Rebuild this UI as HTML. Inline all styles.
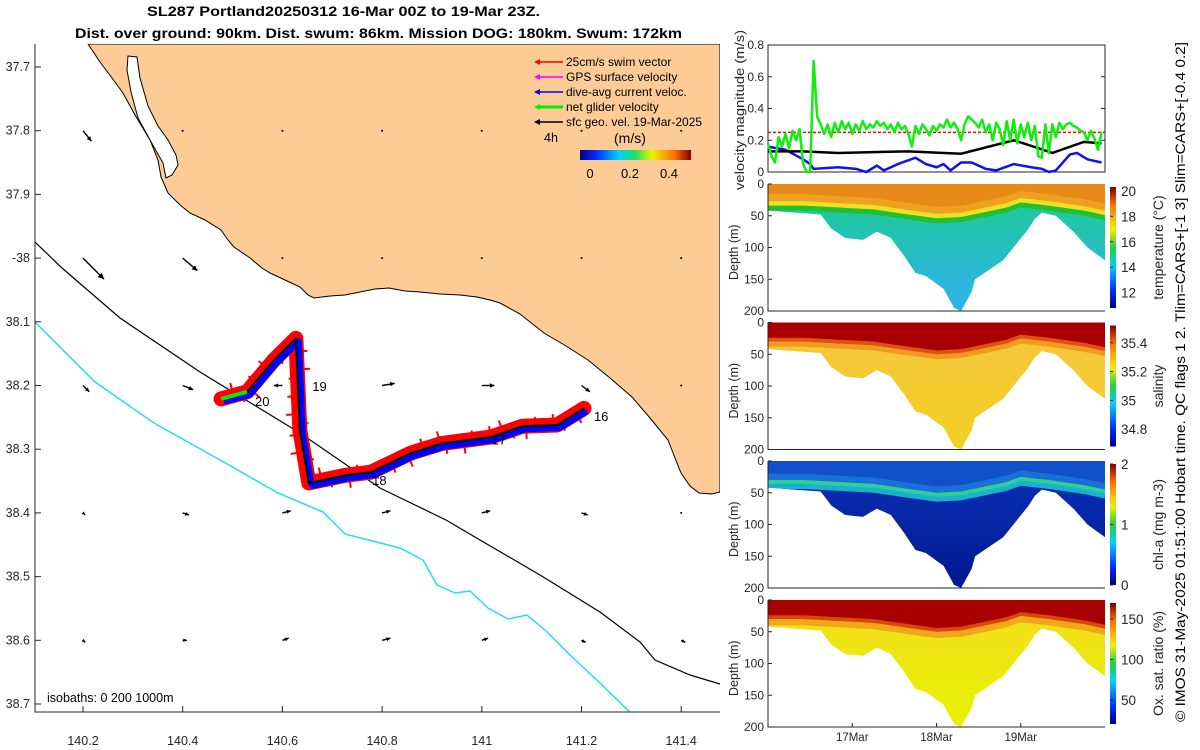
<!DOCTYPE html>
<html><head><meta charset="utf-8"><style>
html,body{margin:0;padding:0;background:#fff;width:1200px;height:750px;overflow:hidden}
svg{display:block}
text{font-family:"Liberation Sans",sans-serif;fill:#262626}
</style></head><body>
<svg id="fig" width="1200" height="750" viewBox="0 0 1200 750" xmlns="http://www.w3.org/2000/svg">
<defs>
<clipPath id="mapclip"><rect x="35" y="44" width="685" height="668"/></clipPath>
<linearGradient id="cbar" x1="0" x2="1" y1="0" y2="0">
<stop offset="0" stop-color="#00007f"/><stop offset="0.15" stop-color="#0030ff"/><stop offset="0.35" stop-color="#00d0ff"/><stop offset="0.5" stop-color="#20e060"/><stop offset="0.65" stop-color="#f0f000"/><stop offset="0.85" stop-color="#ff7000"/><stop offset="1" stop-color="#800000"/>
</linearGradient>
<linearGradient id="vbar" x1="0" x2="0" y1="1" y2="0">
<stop offset="0" stop-color="#00007f"/><stop offset="0.15" stop-color="#0030ff"/><stop offset="0.35" stop-color="#00d0ff"/><stop offset="0.5" stop-color="#20d040"/><stop offset="0.65" stop-color="#f0f000"/><stop offset="0.85" stop-color="#ff7000"/><stop offset="1" stop-color="#800000"/>
</linearGradient>
</defs>

<text x="147" y="16" font-size="13.5" font-weight="bold" textLength="393" lengthAdjust="spacingAndGlyphs" style="fill:#000">SL287 Portland20250312 16-Mar 00Z to 19-Mar 23Z.</text>
<text x="75" y="38" font-size="13.5" font-weight="bold" textLength="607" lengthAdjust="spacingAndGlyphs" style="fill:#000">Dist. over ground: 90km. Dist. swum: 86km. Mission DOG: 180km. Swum: 172km</text>

<g id="map"></g>
<g id="vel"></g>
<g id="sections"></g>

<text transform="translate(1185,722) rotate(-90)" font-size="13.5" textLength="680" lengthAdjust="spacingAndGlyphs" style="fill:#000">© IMOS 31-May-2025 01:51:00 Hobart time. QC flags 1  2. Tlim=CARS+[-1 3] Slim=CARS+[-0.4 0.2]</text>
</svg>
<script>
// ---------- data ----------
const mapLonTicks = [140.2,140.4,140.6,140.8,141,141.2,141.4];
const mapLatTicks = [37.7,37.8,37.9,38,38.1,38.2,38.3,38.4,38.5,38.6,38.7];
const trackLon = [140.477,140.529,140.583,140.627,140.635,140.653,140.726,140.778,140.858,140.920,141.018,141.081,141.151,141.205];
const trackLat = [38.221,38.210,38.160,38.126,38.270,38.353,38.341,38.336,38.306,38.291,38.281,38.264,38.262,38.236];
const dayLabels = ["16","17","18","19","20"];
const dayLon = [141.225,141.02,140.78,140.66,140.545];
const dayLat = [38.248,38.285,38.348,38.201,38.224];
const arrowLon = [140.2,140.4,140.6,140.8,141,141.2,141.4];
const arrowLat = [37.8,38.0,38.2,38.4,38.6];
const arrowU = [
 [0.04,0,0,0,0,0,0],
 [0.10,0.07,0,0,0,0,0],
 [0.03,0.05,-0.04,0.06,0.06,0.04,0],
 [0.01,0.03,0.04,0.04,0.04,0.03,0],
 [0.01,0.02,0.03,0.04,0.03,0.02,0.02]];
const arrowV = [
 [-0.05,0,0,0,0,0,0],
 [-0.10,-0.06,0,0,0,0,0],
 [-0.03,-0.02,0,0.01,0,-0.03,0],
 [-0.01,-0.01,0.01,0.01,0.01,-0.01,0],
 [-0.01,0,0.01,0.01,0.01,-0.01,-0.01]];

const velTicks = [0,0.2,0.4,0.6,0.8];
const greenHours = [0,1,2,3,4,5,6,7,8,9,10,11,12,13,14,15,16,17,18,19,20,21,22,23,24,25,26,27,28,29,30,31,32,33,34,35,36,37,38,39,40,41,42,43,44,45,46,47,48,49,50,51,52,53,54,55,56,57,58,59,60,61,62,63,64,65,66,67,68,69,70,71,72,73,74,75,76,77,78,79,80,81,82,83,84,85,86,87,88,89,90,91,92,93,94,95];
const greenVals = [0.18,0.10,0.06,0.22,0.16,0.24,0.15,0.26,0.20,0.27,0.05,0.0,0.0,0.70,0.35,0.30,0.24,0.30,0.22,0.31,0.25,0.32,0.27,0.31,0.24,0.30,0.26,0.32,0.27,0.30,0.28,0.32,0.29,0.31,0.27,0.30,0.25,0.31,0.27,0.29,0.24,0.16,0.29,0.24,0.30,0.27,0.23,0.29,0.26,0.30,0.28,0.33,0.28,0.31,0.27,0.20,0.30,0.35,0.33,0.31,0.28,0.33,0.25,0.30,0.20,0.31,0.27,0.17,0.32,0.20,0.33,0.18,0.30,0.22,0.31,0.20,0.29,0.10,0.09,0.30,0.12,0.30,0.22,0.31,0.27,0.30,0.31,0.29,0.28,0.26,0.25,0.20,0.26,0.21,0.14,0.25];
const blackHours = [0,10,20,30,40,55,70,77,81,90,95];
const blackVals = [0.13,0.13,0.12,0.125,0.13,0.115,0.20,0.15,0.12,0.19,0.18];
const blueHours = [0,5,10,12,13,20,25,28,31,33,37,42,45,48,50,52,55,58,62,65,70,75,78,80,82,86,88,91,95];
const blueVals = [0.16,0.14,0.08,0.05,0.02,0.03,0.02,0.0,0.04,0.01,0.05,0.09,0.05,0.03,0.05,0.01,0.06,0.06,0.02,0.01,0.05,0.03,0.02,0.0,0.01,0.11,0.12,0.08,0.06];
const swimTarget = 0.25;

const depthTicks = [0,50,100,150,200];
const dateLabels = ["17Mar","18Mar","19Mar"];
const dateHours = [24,48,72];
const profHours = [0,15,18,22,27,31,35,39,42,45,50,53,55,58,59,67,74,76,78,82,87,91,96];
const profDepth = [42,48,70,85,88,75,85,115,140,145,165,195,200,170,150,120,72,55,45,50,75,100,120];
const mlHours = [0,10,20,30,40,48,55,62,68,72,80,90,96];
const mlDepth = [30,30,33,36,44,50,48,40,33,25,30,38,45];

// ---------- helpers ----------
const NS = "http://www.w3.org/2000/svg";
function mk(parent, tag, attrs, txt){const e=document.createElementNS(NS,tag);for(const k in attrs)e.setAttribute(k,attrs[k]);if(txt!==undefined)e.textContent=txt;parent.appendChild(e);return e;}
const lonX = lon => 83 + (lon-140.2)/0.2*99.7;
const latY = lat => 67 + (lat-37.7)/0.1*63.7;

// ---------- map ----------
const map = document.getElementById('map');
const mg = mk(map,'g',{'clip-path':'url(#mapclip)'});
let e;
e = mk(mg,'path',{d:"M88,44 L100,62 L112,78 L123,93 L135,115 L150,140 L158,160 L161,177 L168,193 L180,205 L190,213 L205,220 L221,230 L228,240 L234,247 L250,258 L262,268 L270,273 L285,280 L300,287 L308,295 L314,298 L330,296 L345,295 L360,292 L375,289 L389,288 L405,291 L420,292 L440,294 L460,295 L477,297 L490,300 L500,303 L520,314 L544,333 L566,346 L588,360 L610,378 L632,397 L650,418 L668,440 L675,458 L681,473 L690,486 L699,493 L712,494 L720,492 L720,44 Z",fill:"#fccb96",stroke:"#000","stroke-width":1});
 
e = mk(mg,'path',{d:"M128,56 L137,57 L140,78 L148,106 L158,126 L168,140 L176,155 L178,165 L172,175 L166,178 L163,163 L150,140 L138,118 L131,92 L127,70 Z",fill:"#fff",stroke:"#000","stroke-width":1});
 
e = mk(mg,'polyline',{points:"35,242 62,268 120,318 200,372 300,433 380,488 446,520 480,540 540,575 600,612 640,642 655,660 690,675 720,684",fill:"none",stroke:"#000","stroke-width":1.2});
 
e = mk(mg,'polyline',{points:"35,322 95,382 154,423 220,460 278,493 323,512 345,534 400,548 423,560 437,585 455,593 470,591 488,608 508,619 527,615 545,630 570,655 600,683 640,722",fill:"none",stroke:"#22e0e8","stroke-width":1.5});
 

// current arrows
for(let r=0;r<arrowLat.length;r++){for(let c=0;c<arrowLon.length;c++){
  const x0=lonX(arrowLon[c]), y0=latY(arrowLat[r]);
  const u=arrowU[r][c], v=arrowV[r][c];
  const dx=u*210, dy=-v*210, L=Math.hypot(dx,dy);
  const g=mk(mg,'g',{});
  
  
  if(L<1){mk(g,'circle',{cx:x0,cy:y0,r:1,fill:'#000'});continue;}
  mk(g,'line',{x1:x0,y1:y0,x2:x0+dx,y2:y0+dy,stroke:'#000','stroke-width':1.4});
  const ux=dx/L,uy=dy/L,h=Math.min(6,3+L*0.12);
  mk(g,'polygon',{points:`${x0+dx},${y0+dy} ${x0+dx-h*ux-h*0.5*uy},${y0+dy-h*uy+h*0.5*ux} ${x0+dx-h*ux+h*0.5*uy},${y0+dy-h*uy-h*0.5*ux}`,fill:'#000'});
}}
// track
const tp = trackLon.map((l,i)=>lonX(l)+','+latY(trackLat[i])).join(' ');
const tpb = trackLon.map((l,i)=>(lonX(l)+3)+','+(latY(trackLat[i])+3)).join(' ');
e=mk(mg,'polyline',{points:tp,fill:'none',stroke:'#ff0000','stroke-width':15,'stroke-linejoin':'round','stroke-linecap':'round'});
 
// fuzzy red spikes along track
for(let i=1;i<trackLon.length;i++){
  const xa=lonX(trackLon[i-1]),ya=latY(trackLat[i-1]),xb=lonX(trackLon[i]),yb=latY(trackLat[i]);
  const L=Math.hypot(xb-xa,yb-ya),nx=-(yb-ya)/L,ny=(xb-xa)/L;
  for(let s=4;s<L;s+=9){const f=s/L,x=xa+f*(xb-xa),y=ya+f*(yb-ya),k=((s*7+i*13)%5)-2;
    const sp=mk(mg,'line',{x1:x,y1:y,x2:x+nx*(9+k*2)*(s%18<9?1:-1),y2:y+ny*(9+k*2)*(s%18<9?1:-1),stroke:'#ff0000','stroke-width':2});
     }
}
e=mk(mg,'polyline',{points:tpb,fill:'none',stroke:'#0000ff','stroke-width':6,'stroke-linejoin':'round'});
 
e=mk(mg,'polyline',{points:tp,fill:'none',stroke:'#000','stroke-width':2,'stroke-linejoin':'round'});
 
e=mk(mg,'line',{x1:lonX(trackLon[0]),y1:latY(trackLat[0]),x2:lonX(trackLon[1]),y2:latY(trackLat[1]),stroke:'#00ee00','stroke-width':4});
 
dayLabels.forEach((d,i)=>{const t=mk(mg,'text',{x:lonX(dayLon[i]),y:latY(dayLat[i])+5,'font-size':13,style:'fill:#000'},d);
  });

// legend
const leg=[["#ff0000","25cm/s swim vector"],["#ff00ff","GPS surface velocity"],["#0000ff","dive-avg current veloc."],["#00ee00","net glider velocity"],["#000000","sfc geo. vel. 19-Mar-2025"]];
leg.forEach((l,i)=>{const y=62+i*15;const g=mk(map,'g',{});
  
 mk(g,'line',{x1:537,y1:y,x2:563,y2:y,stroke:l[0],'stroke-width':i===3?3:1.5});
 mk(g,'polygon',{points:`${534},${y} ${540},${y-3} ${540},${y+3}`,fill:l[0]});
 mk(g,'text',{x:566,y:y+4,'font-size':12,style:'fill:#000'},l[1]);});
e=mk(map,'text',{x:544,y:142,'font-size':12.5,style:'fill:#000'},'4h');  
e=mk(map,'text',{x:614,y:143,'font-size':14,style:'fill:#000'},'(m/s)');  
e=mk(map,'rect',{x:580,y:150,width:111,height:10,fill:'url(#cbar)'});  
[["0",590],["0.2",630],["0.4",669]].forEach(a=>{const t=mk(map,'text',{x:a[1],y:178,'font-size':13,'text-anchor':'middle',style:'fill:#000'},a[0]);});
e=mk(map,'text',{x:47,y:702,'font-size':12.5,style:'fill:#000'},'isobaths: 0   200  1000m');  
// axes
e=mk(map,'path',{d:'M35,44 L35,712 L720,712',fill:'none',stroke:'#262626','stroke-width':1});  
mapLonTicks.forEach(l=>{const x=lonX(l);mk(map,'line',{x1:x,y1:712,x2:x,y2:706,stroke:'#262626'});
 const t=mk(map,'text',{x:x,y:745,'font-size':12.5,'text-anchor':'middle'},String(l));});
mapLatTicks.forEach(l=>{const y=latY(l);mk(map,'line',{x1:35,y1:y,x2:41,y2:y,stroke:'#262626'});
 const t=mk(map,'text',{x:30,y:y+4,'font-size':12.5,'text-anchor':'end'},(l===38?'-38':String(l)));});

// ---------- velocity panel ----------
const X0=768,X1=1105;
const hx = h => X0 + h/96*(X1-X0);
const vel=document.getElementById('vel');
const vy = v => 172 - v/0.8*127;
e=mk(vel,'rect',{x:X0,y:45,width:X1-X0,height:127,fill:'#fff',stroke:'#262626'});  
velTicks.forEach(v=>{mk(vel,'line',{x1:X0,y1:vy(v),x2:X0+4,y2:vy(v),stroke:'#262626'});mk(vel,'line',{x1:X1,y1:vy(v),x2:X1-4,y2:vy(v),stroke:'#262626'});
 const t=mk(vel,'text',{x:X0-4,y:vy(v)+4,'font-size':12,'text-anchor':'end'},String(v));});
e=mk(vel,'line',{x1:X0,y1:vy(swimTarget),x2:X1,y2:vy(swimTarget),stroke:'#ff0000','stroke-width':1.5,'stroke-dasharray':'3 2'});  
const pl=(hs,vs)=>hs.map((h,i)=>hx(h)+','+vy(vs[i])).join(' ');
e=mk(vel,'polyline',{points:pl(blueHours,blueVals),fill:'none',stroke:'#1010f0','stroke-width':2.5});  
e=mk(vel,'polyline',{points:pl(blackHours,blackVals),fill:'none',stroke:'#000','stroke-width':2.5});  
e=mk(vel,'polyline',{points:pl(greenHours,greenVals),fill:'none',stroke:'#10ee10','stroke-width':2.5,'stroke-linejoin':'round'});  
e=mk(vel,'text',{transform:'translate(744,190) rotate(-90)','font-size':13,textLength:'160',lengthAdjust:'spacingAndGlyphs'},'velocity magnitude (m/s)');  

// ---------- section panels ----------
const sec=document.getElementById('sections');
function interp(hs,ds,h){for(let i=1;i<hs.length;i++){if(h<=hs[i]){const f=(h-hs[i-1])/(hs[i]-hs[i-1]);return ds[i-1]+f*(ds[i]-ds[i-1]);}}return ds[ds.length-1];}
const panels=[
 {name:'temperature',top:184,base:['#20c8a0','#30b0f0'],layers:[[12,'#20c030'],[4,'#f0e020'],[-3,'#f0a020'],[-14,'#e88a18']],title:'temperature (°C)',cb:[['20',20],['18',18],['16',16],['14',14],['12',12]],cmin:10.8,cmax:20.3},
 {name:'salinity',top:322.5,base:['#f5c83a','#f2d020'],layers:[[8,'#f09a20'],[0,'#e05010'],[-6,'#a80000']],title:'salinity',cb:[['35.4',35.4],['35.2',35.2],['35',35],['34.8',34.8]],cmin:34.68,cmax:35.52},
 {name:'chlorophyll',top:461,base:['#0a2cb0','#001a90'],layers:[[14,'#1ab0d0'],[6,'#30d090'],[0,'#1a70d8'],[-10,'#1050c8']],title:'chl-a (mg m-3)',cb:[['2',2],['1',1],['0',0]],cmin:0,cmax:2},
 {name:'oxygen-saturation',top:600,base:['#f2e018','#e4f400'],layers:[[10,'#f0a818'],[0,'#d84808'],[-6,'#a80000']],title:'Ox. sat. ratio (%)',cb:[['150',150],['100',100],['50',50]],cmin:20,cmax:170}
];
const H=127;
panels.forEach((p,pi)=>{
 const g=mk(sec,'g',{});
 
 
 const dy=d=>p.top+d/200*H;
 const gid='g'+pi;
 const lg=mk(mk(g,'defs',{}),'linearGradient',{id:gid,x1:0,x2:0,y1:dy(40),y2:dy(200),gradientUnits:'userSpaceOnUse'});
 mk(lg,'stop',{offset:0,'stop-color':p.base[0]});mk(lg,'stop',{offset:1,'stop-color':p.base[1]});
 let pts=[hx(0)+','+dy(0)];
 for(let h=0;h<=96;h+=1)pts.push(hx(h)+','+dy(interp(profHours,profDepth,Math.min(h,96))));
 pts.push(hx(96)+','+dy(0));
 e=mk(g,'polygon',{points:pts.join(' '),fill:'url(#'+gid+')'});  
 p.layers.forEach(L=>{
  let q=[hx(0)+','+dy(0)];
  for(let h=0;h<=96;h+=1){const d=Math.min(interp(mlHours,mlDepth,h)+L[0],interp(profHours,profDepth,h));q.push(hx(h)+','+dy(Math.max(d,0)));}
  q.push(hx(96)+','+dy(0));
  const l=mk(g,'polygon',{points:q.join(' '),fill:L[1]});
  
  
 });
 mk(g,'path',{d:`M${X0},${p.top} L${X0},${p.top+H} L${X1},${p.top+H}`,fill:'none',stroke:'#262626'});
 depthTicks.forEach(d=>{mk(g,'line',{x1:X0,y1:dy(d),x2:X0+4,y2:dy(d),stroke:'#262626'});
  const t=mk(g,'text',{x:X0-4,y:dy(d)+4,'font-size':12,'text-anchor':'end'},String(d));});
 const yt=mk(g,'text',{transform:`translate(738,${p.top+96}) rotate(-90)`,'font-size':12.5},'Depth (m)');
  
 const cy0=p.top+3, cy1=p.top+H-3;
 const cb=mk(g,'rect',{x:1110,y:cy0,width:6,height:cy1-cy0,fill:'url(#vbar)'});
  
 p.cb.forEach(c=>{const y=cy1-(c[1]-p.cmin)/(p.cmax-p.cmin)*(cy1-cy0);
  mk(g,'line',{x1:1110,y1:y,x2:1113,y2:y,stroke:'#262626'});
  const t=mk(g,'text',{x:1121,y:y+5,'font-size':13.5},c[0]);});
 const tt=mk(g,'text',{transform:`translate(1163,${p.top+H/2}) rotate(-90)`,'font-size':14,'text-anchor':'middle'},p.title);
  
});
dateHours.forEach((h,i)=>{mk(sec,'line',{x1:hx(h),y1:727,x2:hx(h),y2:723,stroke:'#262626'});
 const t=mk(sec,'text',{x:hx(h),y:741,'font-size':11.5,'text-anchor':'middle'},dateLabels[i]);
  });
</script>
</body></html>
